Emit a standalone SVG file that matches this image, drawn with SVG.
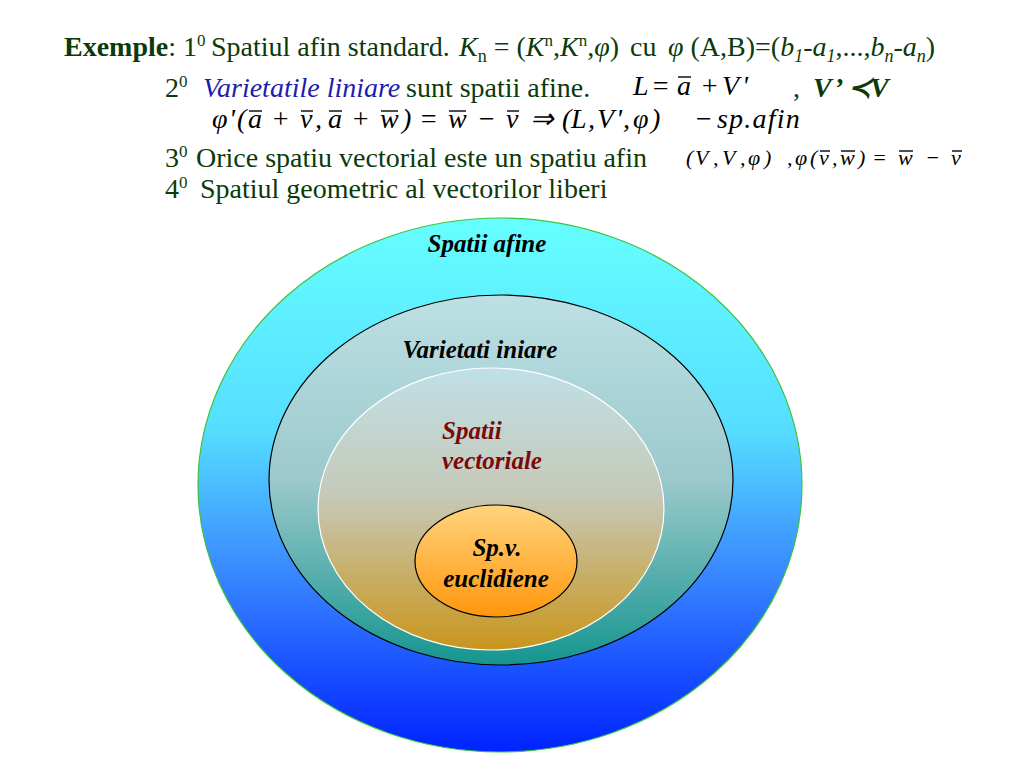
<svg xmlns="http://www.w3.org/2000/svg" width="1024" height="768" viewBox="0 0 1024 768">
<defs>
<linearGradient id="gOuter" x1="0" y1="0" x2="0" y2="1">
<stop offset="0" stop-color="#66ffff"/>
<stop offset="0.4" stop-color="#55ddff"/>
<stop offset="0.65" stop-color="#3b8cff"/>
<stop offset="1" stop-color="#0022ff"/>
</linearGradient>
<linearGradient id="gVar" x1="0" y1="0" x2="0" y2="1">
<stop offset="0" stop-color="#bde0e4"/>
<stop offset="0.5" stop-color="#9cc9cc"/>
<stop offset="1" stop-color="#15958f"/>
</linearGradient>
<linearGradient id="gVec" x1="0" y1="0" x2="0" y2="1">
<stop offset="0" stop-color="#bfe0e6"/>
<stop offset="0.45" stop-color="#c6c9b8"/>
<stop offset="1" stop-color="#c9961c"/>
</linearGradient>
<linearGradient id="gEuc" x1="0" y1="0" x2="0" y2="1">
<stop offset="0" stop-color="#ffd47e"/>
<stop offset="1" stop-color="#ff960c"/>
</linearGradient>
</defs>
<style>
.t{font-family:"Liberation Serif","Times New Roman",serif;font-size:28px;fill:#0b3a0b}
.m{font-family:"Liberation Serif","Times New Roman",serif;font-style:italic;fill:#000}
.i{font-style:italic}
.b{font-weight:bold}
.blue{fill:#1c1cb0}
.lbl{font-family:"Liberation Serif","Times New Roman",serif;font-size:25px;font-weight:bold;font-style:italic;fill:#000}
.ov{stroke:#000;stroke-width:1.4}
</style>
<rect width="1024" height="768" fill="#ffffff"/>

<g id="text">
<text class="t" x="64" y="56" font-size="27"><tspan class="b">Exemple</tspan>: 1<tspan dy="-10" font-size="17">0</tspan><tspan dy="10" x="211">Spatiul afin standard.</tspan><tspan x="459" class="i">K</tspan><tspan dy="6" font-size="18">n</tspan><tspan dy="-6"> = (</tspan><tspan class="i">K</tspan><tspan dy="-10" font-size="17">n</tspan><tspan dy="10">,</tspan><tspan class="i">K</tspan><tspan dy="-10" font-size="17">n</tspan><tspan dy="10">,</tspan><tspan class="i">φ</tspan>)<tspan x="630">cu</tspan><tspan class="i" x="668">φ</tspan> (A,B)=(<tspan class="i">b</tspan><tspan class="i" dy="6" font-size="18">1</tspan><tspan dy="-6">-</tspan><tspan class="i">a</tspan><tspan class="i" dy="6" font-size="18">1</tspan><tspan dy="-6">,...,</tspan><tspan class="i">b</tspan><tspan class="i" dy="6" font-size="18">n</tspan><tspan dy="-6">-</tspan><tspan class="i">a</tspan><tspan class="i" dy="6" font-size="18">n</tspan><tspan dy="-6">)</tspan></text>

<text class="t" x="165" y="97">2<tspan dy="-10" font-size="17">0</tspan><tspan dy="10" x="203" class="i blue">Varietatile liniare</tspan><tspan x="406">sunt spatii afine.</tspan></text>
<text class="m" y="95" font-size="28" x="633 651 677 700 722 742">L=a+V'</text>
<line class="ov" x1="678" y1="77" x2="691" y2="77"/>
<text class="t" x="793" y="97">,</text>
<text class="t b i" y="97" font-size="28" x="813 834 848 870">V’≺V</text>

<text class="m" y="128" font-size="28" x="212 229 237 248 271 300 315 328 351 380 402 419 448 477 506 530 562 571 588 597 616 623 633 651">φ'(a+v,a+w)=w−v⇒(L,V',φ)</text>
<text class="m" y="128" font-size="28" x="694">−</text>
<text class="m" y="128" font-size="28" x="717" letter-spacing="1.2">sp.afin</text>
<line class="ov" x1="249" y1="111" x2="262" y2="111"/>
<line class="ov" x1="301" y1="111" x2="313" y2="111"/>
<line class="ov" x1="329" y1="111" x2="342" y2="111"/>
<line class="ov" x1="381" y1="111" x2="398" y2="111"/>
<line class="ov" x1="449" y1="111" x2="466" y2="111"/>
<line class="ov" x1="507" y1="111" x2="519" y2="111"/>

<text class="t" x="165" y="167">3<tspan dy="-10" font-size="17">0</tspan><tspan dy="10" x="196">Orice spatiu vectorial este un spatiu afin</tspan></text>
<text class="m" y="165" font-size="22" x="686 695 713 722 740 748 764 787 795 810 819 832 840 858 872 898 925 951">(V,V,φ),φ(v,w)=w−v</text>
<line class="ov" x1="820" y1="151" x2="830" y2="151"/>
<line class="ov" x1="841" y1="151" x2="855" y2="151"/>
<line class="ov" x1="899" y1="151" x2="913" y2="151"/>
<line class="ov" x1="952" y1="151" x2="962" y2="151"/>

<text class="t" x="165" y="198">4<tspan dy="-10" font-size="17">0</tspan><tspan dy="10" x="200">Spatiul geometric al vectorilor liberi</tspan></text>
</g>

<g id="spatii-afine">
<ellipse cx="500" cy="485" rx="302" ry="267" fill="url(#gOuter)" stroke="#3cc43c" stroke-width="1.2"/>
<text class="lbl" x="487" y="252" text-anchor="middle">Spatii afine</text>
</g>
<g id="varietati-liniare">
<ellipse cx="501" cy="480" rx="232" ry="185" fill="url(#gVar)" stroke="#000" stroke-width="1.2"/>
<text class="lbl" x="480" y="358" text-anchor="middle">Varietati iniare</text>
</g>
<g id="spatii-vectoriale">
<ellipse cx="491" cy="509" rx="173" ry="141" fill="url(#gVec)" stroke="#ffffff" stroke-width="1.2"/>
<text class="lbl" x="442" y="439" style="fill:#7a0a0a">Spatii</text>
<text class="lbl" x="442" y="469" style="fill:#7a0a0a">vectoriale</text>
</g>
<g id="sp-euclidiene">
<ellipse cx="496" cy="561" rx="81" ry="56" fill="url(#gEuc)" stroke="#000" stroke-width="1.2"/>
<text class="lbl" x="497" y="556" text-anchor="middle">Sp.v.</text>
<text class="lbl" x="496" y="587" text-anchor="middle">euclidiene</text>
</g>
</svg>
